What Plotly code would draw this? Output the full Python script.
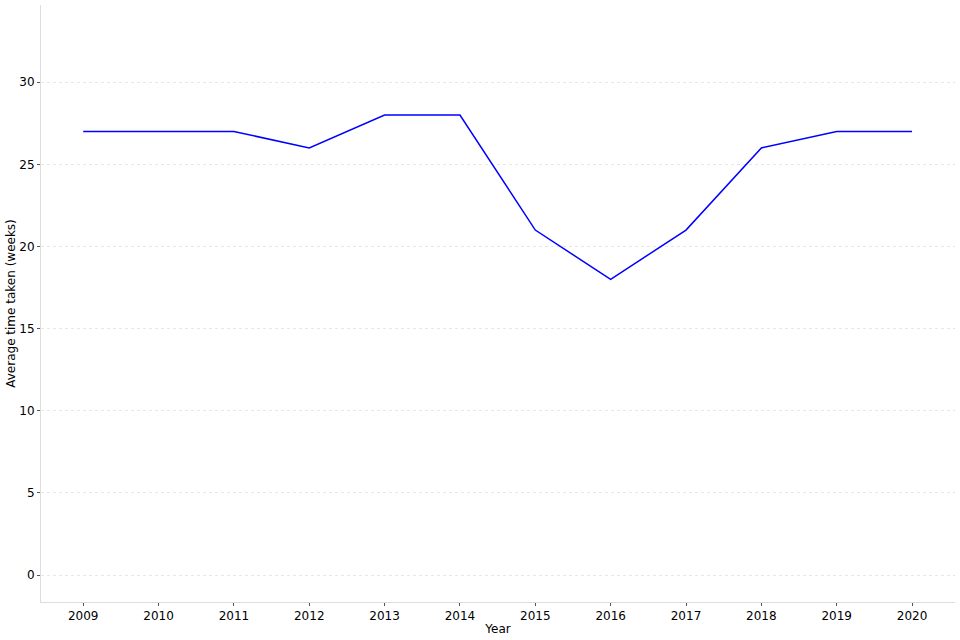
import plotly.graph_objects as go

years = [2009, 2010, 2011, 2012, 2013, 2014, 2015, 2016, 2017, 2018, 2019, 2020]
weeks = [27, 27, 27, 26, 28, 28, 21, 18, 21, 26, 27, 27]

fig = go.Figure(go.Scatter(x=years, y=weeks, mode="lines",
                           line=dict(color="#0000ff", width=1.5), showlegend=False))

fig.update_layout(
    width=960, height=640,
    margin=dict(l=41, r=5, t=5, b=38, autoexpand=False),
    paper_bgcolor="white", plot_bgcolor="white",
    font=dict(family="DejaVu Sans", size=12, color="#000000"),
)
fig.update_xaxes(
    range=[2008.44, 2020.57], tickmode="array", tickvals=years,
    ticktext=[str(y) for y in years], automargin=False,
    showgrid=False, zeroline=False, showline=True, linecolor="#dddddd", linewidth=1,
    ticks="outside", ticklen=3, tickcolor="#555555",
    title=dict(text="Year", font=dict(size=12), standoff=2),
)
fig.update_yaxes(
    range=[-1.64, 34.7], tickvals=[0, 5, 10, 15, 20, 25, 30], automargin=False,
    showgrid=True, gridcolor="#e6e6e6", griddash="3px,3px", gridwidth=1,
    zeroline=False, showline=True, linecolor="#dddddd", linewidth=1,
    ticks="outside", ticklen=3, tickcolor="#555555",
    title=dict(text="Average time taken (weeks)", font=dict(size=12), standoff=1),
)
fig.write_html("out.html", config={"displayModeBar": False},
               post_script="document.body.style.margin='0';")
